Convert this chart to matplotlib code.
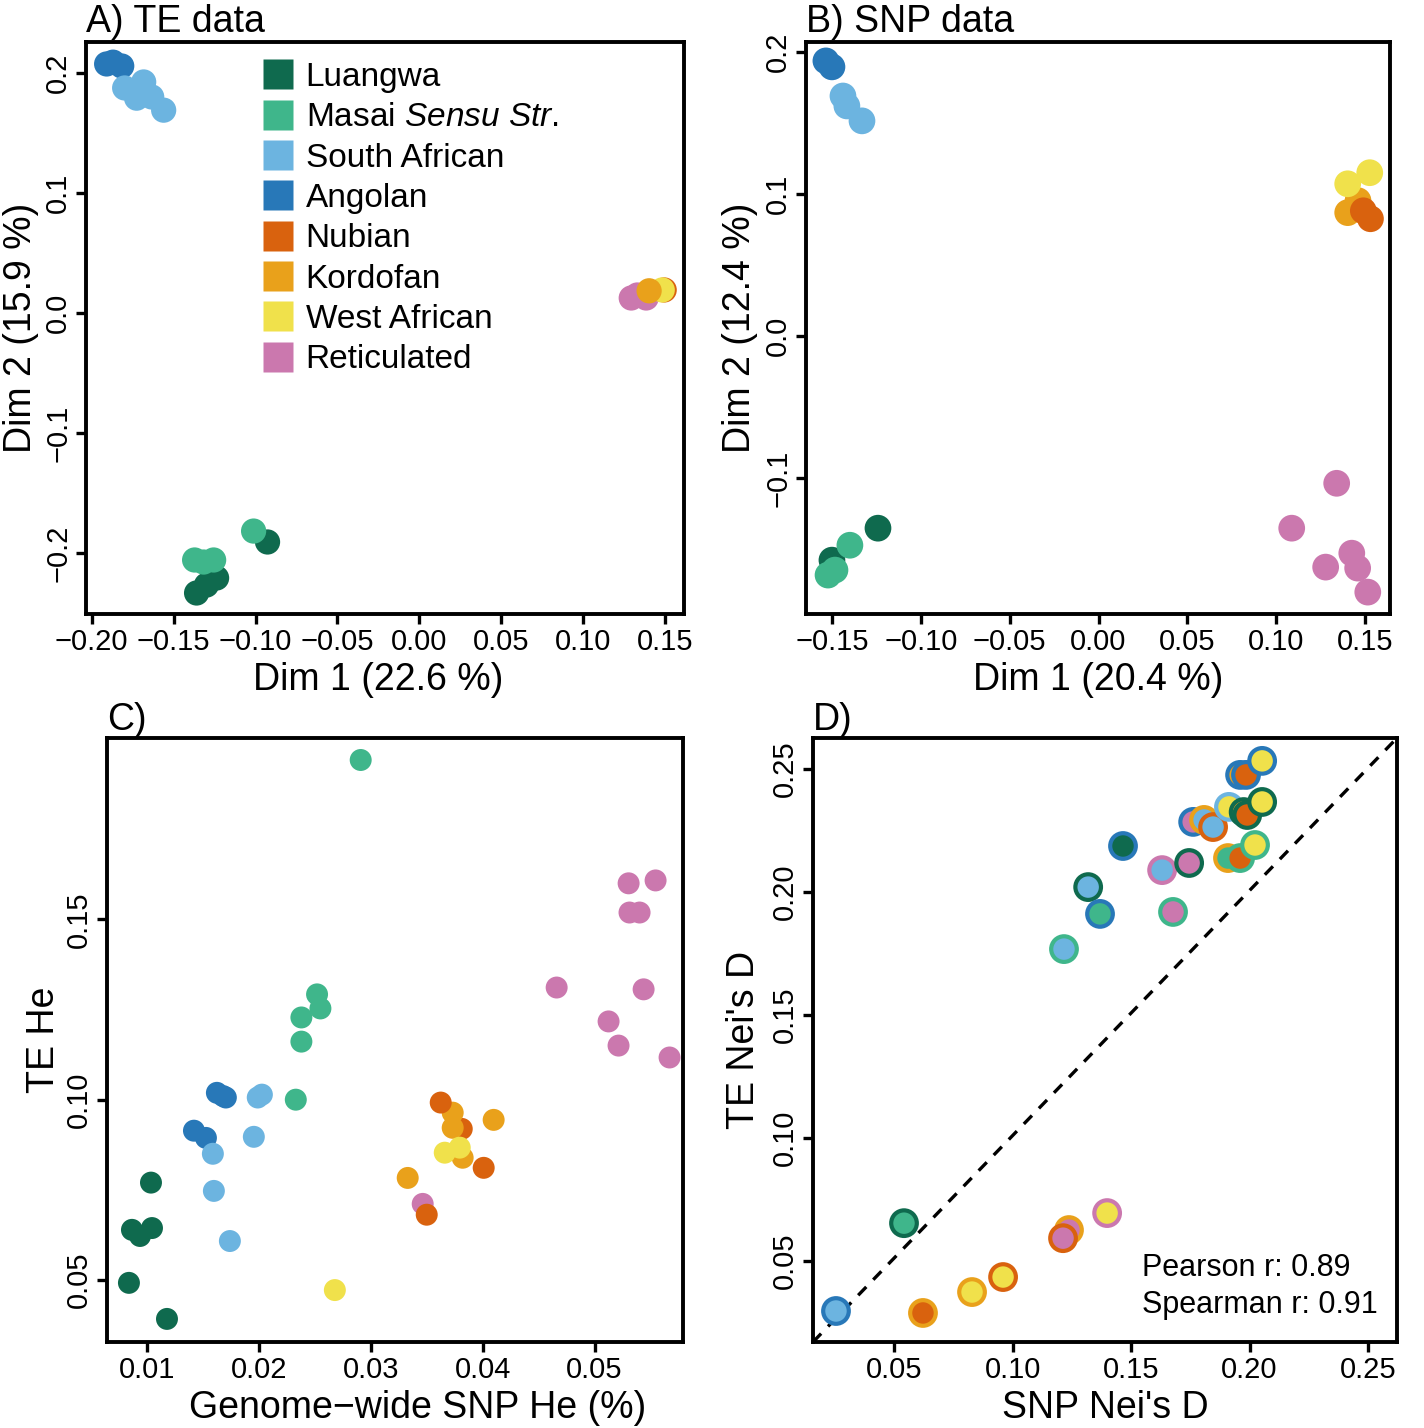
import matplotlib
matplotlib.use("Agg")
import matplotlib.pyplot as plt
from matplotlib.lines import Line2D

plt.rcParams['font.family'] = ['Liberation Sans', 'DejaVu Sans']
plt.rcParams['mathtext.fontset'] = 'custom'
plt.rcParams['mathtext.rm'] = 'Liberation Sans'
plt.rcParams['mathtext.it'] = 'Liberation Sans:italic'

# populations and colours
pops = ["Luangwa", "Masai", "South African", "Angolan",
        "Nubian", "Kordofan", "West African", "Reticulated"]
legend_labels = ["Luangwa", r"Masai $\mathit{Sensu\ Str}$.", "South African", "Angolan",
                 "Nubian", "Kordofan", "West African", "Reticulated"]
colors = {"Luangwa": "#0f6a4e", "Masai": "#3fb68b", "South African": "#6cb4e0",
          "Angolan": "#2878b8", "Nubian": "#d9620e", "Kordofan": "#e9a11b",
          "West African": "#f0e14b", "Reticulated": "#cb78ae"}

# A) TE PCA (drawing order)
te_dim1 = [-0.0927, -0.136, -0.130, -0.1238,
           -0.1372, -0.1256, -0.1317, -0.1012,
           -0.1909, -0.1817, -0.1870,
           -0.1799, -0.1683, -0.1726, -0.1634, -0.1561,
           0.1293, 0.1384, 0.1330,
           0.1494,
           0.1482,
           0.1402]
te_dim2 = [-0.1908, -0.2333, -0.2267, -0.2208,
           -0.2058, -0.2058, -0.2075, -0.1817,
           0.2075, 0.2058, 0.2090,
           0.1875, 0.1925, 0.1790, 0.1800, 0.1690,
           0.0125, 0.0125, 0.0150,
           0.0192,
           0.0192,
           0.0185]
te_pop = ["Luangwa"] * 4 + ["Masai"] * 4 + ["Angolan"] * 3 + ["South African"] * 5 + \
         ["Reticulated"] * 3 + ["Nubian"] + ["West African"] + ["Kordofan"]

# B) SNP PCA (drawing order)
snp_dim1 = [-0.1241, -0.1500,
            -0.1399, -0.1483, -0.1522,
            -0.1534, -0.1500,
            -0.1438, -0.1416, -0.1331,
            0.1087, 0.1340, 0.1278, 0.1425, 0.1458, 0.1515,
            0.1402, 0.1460,
            0.1530, 0.1490,
            0.1402, 0.1526]
snp_dim2 = [-0.1352, -0.1577,
            -0.1472, -0.1647, -0.1682,
            0.1937, 0.1895,
            0.1690, 0.1620, 0.1515,
            -0.1352, -0.1036, -0.1626, -0.1528, -0.1633, -0.1802,
            0.0869, 0.0953,
            0.0826, 0.0882,
            0.1072, 0.1150]
snp_pop = ["Luangwa"] * 2 + ["Masai"] * 3 + ["Angolan"] * 2 + ["South African"] * 3 + \
          ["Reticulated"] * 6 + ["Kordofan"] * 2 + ["Nubian"] * 2 + ["West African"] * 2

# C) heterozygosity (drawing order)
snp_he = [0.01036, 0.00866, 0.00938, 0.01045, 0.00839, 0.01179,
          0.0291, 0.0252, 0.0255, 0.0238, 0.0238, 0.0233,
          0.01625, 0.01705, 0.0168, 0.0142, 0.01527,
          0.02027, 0.0199, 0.01955, 0.01589, 0.01598, 0.01741,
          0.05304, 0.05545, 0.05312, 0.05402, 0.04661, 0.05438, 0.05125, 0.05214, 0.0567, 0.03464,
          0.03813,
          0.03732, 0.03732, 0.04098, 0.03821, 0.0333,
          0.03625, 0.04009, 0.0350,
          0.03661, 0.03795, 0.02679]
te_he = [0.0770, 0.0639, 0.0622, 0.0644, 0.0492, 0.0392,
         0.1942, 0.1292, 0.1253, 0.1228, 0.1161, 0.1000,
         0.1019, 0.1006, 0.1010, 0.0914, 0.0894,
         0.1014, 0.1006, 0.0897, 0.0850, 0.0747, 0.0608,
         0.1600, 0.1608, 0.1519, 0.1519, 0.1311, 0.1306, 0.1217, 0.1150, 0.1117, 0.0711,
         0.0919,
         0.0964, 0.0922, 0.0944, 0.0839, 0.0783,
         0.0992, 0.0811, 0.0681,
         0.0853, 0.0867, 0.0472]
he_pop = ["Luangwa"] * 6 + ["Masai"] * 6 + ["Angolan"] * 5 + ["South African"] * 6 + \
         ["Reticulated"] * 10 + ["Nubian"] + ["Kordofan"] * 5 + ["Nubian"] * 3 + ["West African"] * 3

# D) pairwise Nei's D (fill = one population, ring = the other)
nei_snp = [0.0255, 0.0542, 0.0622, 0.0829, 0.0960, 0.1238, 0.1213, 0.1399,
           0.1217, 0.1319, 0.1369, 0.1466, 0.1631, 0.1677, 0.1745, 0.1762,
           0.1808, 0.1846, 0.1909, 0.1960, 0.1913, 0.1975, 0.1990, 0.2023,
           0.1960, 0.1985, 0.2053, 0.2053]
nei_te = [0.0297, 0.0654, 0.0289, 0.0374, 0.0435, 0.0626, 0.0593, 0.0695,
          0.1768, 0.2020, 0.1911, 0.2187, 0.2089, 0.1919, 0.2118, 0.2285,
          0.2293, 0.2264, 0.2138, 0.2138, 0.2346, 0.2325, 0.2313, 0.2191,
          0.2476, 0.2476, 0.2366, 0.2533]
nei_fill = ["South African", "Masai", "Nubian", "West African", "West African", "Reticulated",
            "Reticulated", "West African",
            "South African", "South African", "Masai", "Luangwa", "South African", "Reticulated",
            "Reticulated", "Reticulated", "South African", "South African", "Masai", "Nubian",
            "West African", "Kordofan", "Nubian", "West African", "Kordofan", "Nubian",
            "West African", "West African"]
nei_ring = ["Angolan", "Luangwa", "Kordofan", "Kordofan", "Nubian", "Kordofan",
            "Nubian", "Reticulated",
            "Masai", "Luangwa", "Angolan", "Angolan", "Reticulated", "Masai",
            "Luangwa", "Angolan", "Kordofan", "Nubian", "Kordofan", "Masai",
            "South African", "Luangwa", "Luangwa", "Masai", "Angolan", "Angolan",
            "Luangwa", "Angolan"]

W, H = 1424, 1428
fig = plt.figure(figsize=(W / 100, H / 100), dpi=100)


def box(l, t, r, b):
    return [l / W, 1 - b / H, (r - l) / W, (b - t) / H]


axA = fig.add_axes(box(86, 42, 684, 614))
axB = fig.add_axes(box(806, 42, 1390, 614))
axC = fig.add_axes(box(107, 738, 683, 1342))
axD = fig.add_axes(box(813, 738, 1397, 1342))


def style(ax, xticks, yticks):
    ax.set_xticks(xticks)
    ax.set_yticks(yticks)
    for s in ax.spines.values():
        s.set_linewidth(2.8)
    ax.tick_params(length=7, width=2.4, labelsize=21, pad=3)
    ax.tick_params(axis='y', labelrotation=90)
    plt.setp(ax.get_yticklabels(), va='center')


# A
axA.scatter(te_dim1, te_dim2, s=330, c=[colors[p] for p in te_pop], linewidths=0, zorder=3)
axA.set_xlim(-0.2035, 0.1615)
axA.set_ylim(-0.2508, 0.2258)
style(axA, [-0.20, -0.15, -0.10, -0.05, 0.00, 0.05, 0.10, 0.15], [-0.2, -0.1, 0.0, 0.1, 0.2])
axA.set_xlabel("Dim 1 (22.6 %)", fontsize=27)
axA.set_ylabel("Dim 2 (15.9 %)", fontsize=27)
axA.xaxis.set_label_coords(0.489, -0.084)
axA.yaxis.set_label_coords(-0.079, 0.5)
axA.text(0, 1 + 10 / 572, "A) TE data", transform=axA.transAxes, fontsize=27, va='baseline')
handles = [Line2D([], [], ls='none', marker='s', ms=21, mfc=colors[p], mec='none') for p in pops]
axA.legend(handles, legend_labels, loc='upper left', bbox_to_anchor=(0.293, 0.965),
           frameon=False, fontsize=24, handlelength=1.0, handletextpad=0.33,
           labelspacing=0.28, borderpad=0, borderaxespad=0)

# B
axB.scatter(snp_dim1, snp_dim2, s=370, c=[colors[p] for p in snp_pop], linewidths=0, zorder=3)
axB.set_xlim(-0.1646, 0.164)
axB.set_ylim(-0.1956, 0.207)
style(axB, [-0.15, -0.10, -0.05, 0.00, 0.05, 0.10, 0.15], [-0.1, 0.0, 0.1, 0.2])
axB.set_xlabel("Dim 1 (20.4 %)", fontsize=27)
axB.set_ylabel("Dim 2 (12.4 %)", fontsize=27)
axB.xaxis.set_label_coords(0.5, -0.084)
axB.yaxis.set_label_coords(-0.082, 0.5)
axB.text(0, 1 + 10 / 572, "B) SNP data", transform=axB.transAxes, fontsize=27, va='baseline')

# C
axC.scatter(snp_he, te_he, s=250, c=[colors[p] for p in he_pop], linewidths=0, zorder=3)
axC.set_xlim(0.00643, 0.0579)
axC.set_ylim(0.0328, 0.2003)
style(axC, [0.01, 0.02, 0.03, 0.04, 0.05], [0.05, 0.10, 0.15])
axC.set_xlabel("Genome\u2212wide SNP He (%)", fontsize=27)
axC.set_ylabel("TE He", fontsize=27)
axC.xaxis.set_label_coords(0.54, -0.079)
axC.yaxis.set_label_coords(-0.078, 0.5)
axC.text(0, 1 + 8 / 604, "C)", transform=axC.transAxes, fontsize=27, va='baseline')

# D
axD.set_xlim(0.0158, 0.2622)
axD.set_ylim(0.0171, 0.2626)
axD.plot([0, 1], [0, 1], transform=axD.transAxes, color='black', lw=2.4,
         ls=(0, (3.5, 3)), zorder=2)
axD.scatter(nei_snp, nei_te, s=340, c=[colors[p] for p in nei_fill],
            edgecolors=[colors[p] for p in nei_ring], linewidths=3.0, zorder=3)
style(axD, [0.05, 0.10, 0.15, 0.20, 0.25], [0.05, 0.10, 0.15, 0.20, 0.25])
axD.set_xlabel("SNP Nei's D", fontsize=27)
axD.set_ylabel("TE Nei's D", fontsize=27)
axD.xaxis.set_label_coords(0.5, -0.079)
axD.yaxis.set_label_coords(-0.088, 0.5)
axD.text(0, 1 + 8 / 604, "D)", transform=axD.transAxes, fontsize=27, va='baseline')
axD.text(0.563, 0.1225, "Pearson r: 0.89", transform=axD.transAxes, fontsize=22, va='center')
axD.text(0.563, 0.061, "Spearman r: 0.91", transform=axD.transAxes, fontsize=22, va='center')

fig.savefig("out.png", dpi=100)
